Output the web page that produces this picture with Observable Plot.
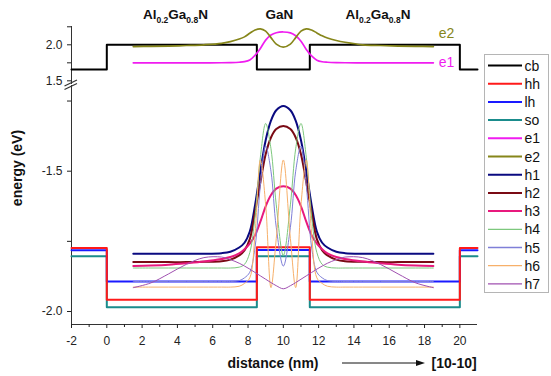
<!DOCTYPE html>
<html><head><meta charset="utf-8">
<script src="https://cdn.jsdelivr.net/npm/d3@7"></script>
<script src="https://cdn.jsdelivr.net/npm/@observablehq/plot@0.6"></script>
<style>
html,body{margin:0;padding:0;background:#fff;}
#chart{position:relative;width:551px;height:376px;overflow:hidden;font-family:"Liberation Sans",Arial,sans-serif;background:#fff;}
#chart svg{position:absolute;left:0;top:0;}
</style></head><body><div id="chart"></div>
<script>
// ---- data ----
const regionEdges = [-2, 0, 8.5, 11.5, 20, 21];
const cbLevels = [1.657, 2.0, 1.657, 2.0, 1.657];
const hhLevels = [-1.774, -1.958, -1.771, -1.958, -1.774];
const lhLevels = [-1.782, -1.893, -1.781, -1.893, -1.782];
const soLevels = [-1.803, -1.985, -1.803, -1.985, -1.803];

const xGrid = [1.5,2.5,3.5,4.5,5.5,6.5,7.0,7.5,7.8,8.1,8.4,8.7,9.0,9.3,9.6,10.0,10.4,10.7,11.0,11.3,11.6,11.9,12.2,12.5,13.0,13.5,14.5,15.5,16.5,17.5,18.5];
const e1 = [1.75,1.75,1.75,1.75,1.75,1.751,1.753,1.758,1.766,1.79,1.855,1.95,2.065,2.135,2.168,2.178,2.165,2.125,2.05,1.935,1.845,1.787,1.765,1.758,1.753,1.751,1.75,1.75,1.75,1.75,1.75];
const e2 = [1.976,1.978,1.982,1.99,2.0,2.02,2.045,2.08,2.11,2.16,2.205,2.222,2.19,2.10,2.01,1.968,2.01,2.10,2.19,2.222,2.205,2.165,2.125,2.095,2.06,2.035,2.0,1.99,1.982,1.978,1.976];
const h1 = [-1.794,-1.794,-1.794,-1.794,-1.794,-1.792,-1.787,-1.772,-1.755,-1.715,-1.62,-1.50,-1.39,-1.32,-1.283,-1.268,-1.283,-1.32,-1.39,-1.50,-1.62,-1.715,-1.755,-1.772,-1.787,-1.792,-1.794,-1.794,-1.794,-1.794,-1.794];
const h2 = [-1.824,-1.824,-1.824,-1.824,-1.823,-1.821,-1.815,-1.800,-1.782,-1.742,-1.645,-1.54,-1.44,-1.38,-1.35,-1.339,-1.35,-1.38,-1.44,-1.54,-1.645,-1.742,-1.782,-1.800,-1.815,-1.821,-1.823,-1.824,-1.824,-1.824,-1.824];
const h3 = [-1.838,-1.836,-1.833,-1.828,-1.822,-1.813,-1.806,-1.793,-1.778,-1.758,-1.728,-1.68,-1.625,-1.585,-1.562,-1.554,-1.562,-1.585,-1.625,-1.68,-1.728,-1.758,-1.778,-1.793,-1.806,-1.813,-1.822,-1.828,-1.833,-1.836,-1.838];
const h4 = [-1.845,-1.845,-1.845,-1.845,-1.845,-1.845,-1.845,-1.842,-1.832,-1.79,-1.66,-1.45,-1.33,-1.42,-1.62,-1.80,-1.62,-1.42,-1.33,-1.45,-1.66,-1.79,-1.832,-1.842,-1.845,-1.845,-1.845,-1.845,-1.845,-1.845,-1.845];
const h5 = [-1.893,-1.893,-1.893,-1.893,-1.893,-1.893,-1.893,-1.89,-1.88,-1.86,-1.77,-1.55,-1.41,-1.50,-1.70,-1.838,-1.70,-1.50,-1.41,-1.55,-1.77,-1.86,-1.88,-1.89,-1.893,-1.893,-1.893,-1.893,-1.893,-1.893,-1.893];
const h6 = [-1.913,-1.913,-1.913,-1.913,-1.913,-1.913,-1.913,-1.91,-1.90,-1.88,-1.72,-1.46,-1.62,-1.915,-1.74,-1.46,-1.74,-1.915,-1.62,-1.46,-1.72,-1.88,-1.90,-1.91,-1.913,-1.913,-1.913,-1.913,-1.913,-1.913,-1.913];
const h7 = [-1.915,-1.898,-1.866,-1.832,-1.808,-1.806,-1.815,-1.828,-1.838,-1.849,-1.861,-1.873,-1.885,-1.897,-1.908,-1.919,-1.908,-1.897,-1.885,-1.873,-1.861,-1.849,-1.838,-1.828,-1.815,-1.806,-1.808,-1.832,-1.866,-1.898,-1.915];

const seriesNames  = ["cb","hh","lh","so","e1","e2","h1","h2","h3","h4","h5","h6","h7"];
const seriesColors = ["#000000","#ff1a1a","#1a1aff","#1a8c8c","#f01cf0","#86861a","#0a0a80","#7a0a14","#e8197d","#7dc87d","#7f7fd8","#f7b06a","#a050b0"];
const seriesWidths = [2,2,2,2,1.7,1.7,2,2,2,1,1,1,1];
const xTicksMajor = [-2,0,2,4,6,8,10,12,14,16,18,20];
const xTicksMinor = [-1,1,3,5,7,9,11,13,15,17,19];
const yTopMajor = [1.5, 2.0], yTopMinor = [1.75, 2.25];
const yBotMajor = [-2.0, -1.5], yBotMinor = [-1.75, -1.25];

// ---- helpers ----
const col = Object.fromEntries(seriesNames.map((n,i)=>[n, seriesColors[i]]));
const wid = Object.fromEntries(seriesNames.map((n,i)=>[n, seriesWidths[i]]));
const band = L => regionEdges.map((x,i)=>({x, y: L[Math.min(i, L.length-1)]}));
const wave = arr => xGrid.map((x,i)=>({x, y: arr[i]}));
const fmt = d => d.toFixed(1);
const xDomain = [-2, 21];
const topDom = [1.449, 2.254];
const botDom = [-2.0463, -1.1946];
const common = {
  width: 551, marginLeft: 71, marginRight: 74,
  style: {background: "transparent", fontFamily: '"Liberation Sans", Arial, sans-serif', fontSize: "12px", color: "#222", overflow: "visible"}
};
const stepLine = (L, name) => Plot.line(band(L), {x:"x", y:"y", curve:"step-after", stroke: col[name], strokeWidth: wid[name]});
const waveLine = (A, name) => Plot.line(wave(A), {x:"x", y:"y", curve:"catmull-rom", stroke: col[name], strokeWidth: wid[name]});

const bottomPlot = Plot.plot({
  ...common, height: 376, marginTop: 85, marginBottom: 52,
  x: {domain: xDomain, axis: null},
  y: {domain: botDom, axis: null},
  marks: [
    Plot.ruleX([-2], {y1: botDom[0], y2: botDom[1], stroke: "#333"}),
    Plot.ruleY([botDom[0]], {stroke: "#333"}),
    Plot.axisX({ticks: xTicksMajor, tickFormat: d => String(d), tickSize: 4, tickPadding: 8, label: null, anchor: "bottom", fontSize: 12}),
    Plot.axisX({ticks: xTicksMinor, tickFormat: () => "", tickSize: 3, label: null, anchor: "bottom"}),
    Plot.axisY({ticks: yBotMajor, tickFormat: fmt, tickSize: 4, tickPadding: 5, label: null, anchor: "left", fontSize: 12}),
    Plot.axisY({ticks: yBotMinor, tickFormat: () => "", tickSize: 4, label: null, anchor: "left"}),
    stepLine(soLevels, "so"),
    stepLine(lhLevels, "lh"),
    stepLine(hhLevels, "hh"),
    waveLine(h1, "h1"),
    waveLine(h2, "h2"),
    waveLine(h3, "h3"),
    waveLine(h4, "h4"),
    waveLine(h5, "h5"),
    waveLine(h6, "h6"),
    waveLine(h7, "h7")
  ]
});

const topPlot = Plot.plot({
  ...common, height: 90, marginTop: 26, marginBottom: 6,
  x: {domain: xDomain, axis: null},
  y: {domain: topDom, axis: null},
  marks: [
    Plot.ruleX([-2], {y1: topDom[0], y2: topDom[1], stroke: "#333"}),
    Plot.axisY({ticks: yTopMajor, tickFormat: fmt, tickSize: 4, tickPadding: 5, label: null, anchor: "left", fontSize: 12}),
    Plot.axisY({ticks: yTopMinor, tickFormat: () => "", tickSize: 4, label: null, anchor: "left"}),
    stepLine(cbLevels, "cb"),
    waveLine(e1, "e1"),
    waveLine(e2, "e2"),
    Plot.text(["e2"], {x: 18.8, y: 2.153, text: d => d, textAnchor: "start", fill: col.e2, fontSize: 14}),
    Plot.text(["e1"], {x: 18.8, y: 1.758, text: d => d, textAnchor: "start", fill: col.e1, fontSize: 14})
  ]
});

const chart = document.getElementById("chart");
chart.appendChild(bottomPlot);
chart.appendChild(topPlot);

// ---- overlay: axis labels, region labels, break marks, legend ----
const NS = "http://www.w3.org/2000/svg";
const ov = document.createElementNS(NS, "svg");
ov.setAttribute("width", 551); ov.setAttribute("height", 376);
ov.setAttribute("font-family", '"Liberation Sans", Arial, sans-serif');
chart.appendChild(ov);
function el(tag, attrs, text) {
  const e = document.createElementNS(NS, tag);
  for (const k in attrs) e.setAttribute(k, attrs[k]);
  if (text != null) e.textContent = text;
  return e;
}
// break marks on y axis
ov.appendChild(el("line", {x1: 64.5, y1: 86, x2: 77, y2: 80, stroke: "#333", "stroke-width": 1.2}));
ov.appendChild(el("line", {x1: 64.5, y1: 89.5, x2: 77, y2: 83.5, stroke: "#333", "stroke-width": 1.2}));
// y label
ov.appendChild(el("text", {x: 0, y: 0, transform: "translate(22,168) rotate(-90)", "text-anchor": "middle", "font-weight": "bold", "font-size": 14, fill: "#111"}, "energy (eV)"));
// x label + arrow
ov.appendChild(el("text", {x: 273, y: 367.5, "text-anchor": "middle", "font-weight": "bold", "font-size": 14, fill: "#111"}, "distance (nm)"));
ov.appendChild(el("line", {x1: 342, y1: 363, x2: 418, y2: 363, stroke: "#111", "stroke-width": 1}));
ov.appendChild(el("polygon", {points: "416,360 425,363 416,366", fill: "#111"}));
ov.appendChild(el("text", {x: 431.5, y: 367.5, "font-weight": "bold", "font-size": 14, fill: "#111"}, "[10-10]"));
// region labels
function alLabel(x) {
  const t = el("text", {x, y: 19, "font-weight": "bold", "font-size": 13.5, fill: "#111"});
  const parts = [["Al",0,null],["0.2",4,8.5],["Ga",-4,null],["0.8",4,8.5],["N",-4,null]];
  for (const [s, dy, fs] of parts) {
    const sp = el("tspan", {dy}, s);
    if (fs) sp.setAttribute("font-size", fs);
    t.appendChild(sp);
  }
  return t;
}
ov.appendChild(alLabel(143));
ov.appendChild(alLabel(345.5));
ov.appendChild(el("text", {x: 279.5, y: 19, "text-anchor": "middle", "font-weight": "bold", "font-size": 13.5, fill: "#111"}, "GaN"));
// legend
ov.appendChild(el("rect", {x: 484.5, y: 54.5, width: 64, height: 238, fill: "#fff", stroke: "#b5b5b5", "stroke-width": 1}));
seriesNames.forEach((n, i) => {
  const y = 65.5 + i * 18.2;
  ov.appendChild(el("line", {x1: 488, y1: y, x2: 522, y2: y, stroke: seriesColors[i], "stroke-width": seriesWidths[i] === 1 ? 1.3 : 2}));
  ov.appendChild(el("text", {x: 524.5, y: y + 5, "font-size": 14, fill: "#111"}, n));
});
</script>
</body></html>
